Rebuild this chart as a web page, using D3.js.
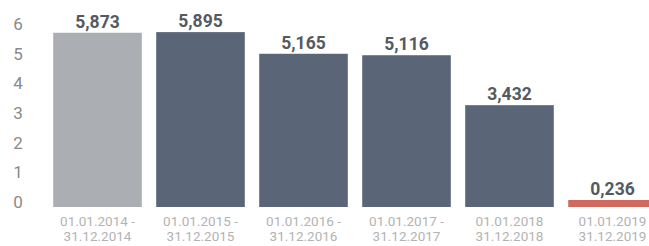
<!DOCTYPE html>
<html>
<head>
<meta charset="utf-8">
<script src="https://cdn.jsdelivr.net/npm/d3@7"></script>
<style>
  body { margin: 0; background: #fff; }
  #chart { width: 649px; height: 246px; }
  text { font-family: Roboto, 'Open Sans', sans-serif; }
</style>
</head>
<body>
<div id="chart"></div>
<script>
const periodStart = ['01.01.2014 -', '01.01.2015 -', '01.01.2016 -', '01.01.2017 -', '01.01.2018', '01.01.2019']
const periodEnd = ['31.12.2014', '31.12.2015', '31.12.2016', '31.12.2017', '31.12.2018', '31.12.2019']
const values = [5.873, 5.895, 5.165, 5.116, 3.432, 0.236]
const valueLabels = ['5,873', '5,895', '5,165', '5,116', '3,432', '0,236']
const barColors = ['#abaeb2', '#5b6578', '#5b6578', '#5b6578', '#5b6578', '#d06a5f']
const yTicks = [0, 1, 2, 3, 4, 5, 6]

const width = 649
const height = 246

const svg = d3
  .select('#chart')
  .append('svg')
  .attr('width', width)
  .attr('height', height)
  .attr('viewBox', [0, 0, width, height])

const x = d3
  .scaleBand()
  .domain(d3.range(values.length))
  .range([46, 664])
  .paddingInner(0.14)
  .paddingOuter(0.07)

const y = d3.scaleLinear().domain([0, 6]).range([207, 29])

// y axis, no line, just numbers
const yAxis = svg
  .append('g')
  .attr('transform', 'translate(18, 0)')
  .call(
    d3
      .axisLeft(y)
      .tickValues(yTicks)
      .tickFormat(d3.format('d'))
      .tickSize(0)
      .tickPadding(0)
  )
yAxis.select('.domain').remove()
yAxis
  .selectAll('text')
  .attr('text-anchor', 'middle')
  .attr('dy', '0.2em')
  .attr('font-size', 17)
  .attr('fill', '#8a8a8a')
  .attr('transform', 'translate(0, -3)')

svg
  .append('g')
  .selectAll('rect')
  .data(values)
  .join('rect')
  .attr('x', (d, i) => x(i))
  .attr('y', (d) => y(d))
  .attr('width', x.bandwidth())
  .attr('height', (d) => y(0) - y(d))
  .attr('fill', (d, i) => barColors[i])

svg
  .append('g')
  .selectAll('text')
  .data(values)
  .join('text')
  .attr('x', (d, i) => x(i) + x.bandwidth() / 2)
  .attr('y', (d) => y(d) - 5)
  .attr('text-anchor', 'middle')
  .attr('font-size', 17.5)
  .attr('font-weight', 'bold')
  .attr('fill', '#555a60')
  .text((d, i) => valueLabels[i])

// two-line period labels under the bars
const cat = svg
  .append('g')
  .selectAll('text')
  .data(values)
  .join('text')
  .attr('x', (d, i) => x(i) + x.bandwidth() / 2)
  .attr('y', 226)
  .attr('text-anchor', 'middle')
  .attr('font-size', 13.5)
  .attr('fill', '#b3b3b3')
cat.append('tspan').text((d, i) => periodStart[i])
cat
  .append('tspan')
  .attr('x', (d, i) => x(i) + x.bandwidth() / 2)
  .attr('dy', 15)
  .text((d, i) => periodEnd[i])
</script>
</body>
</html>
